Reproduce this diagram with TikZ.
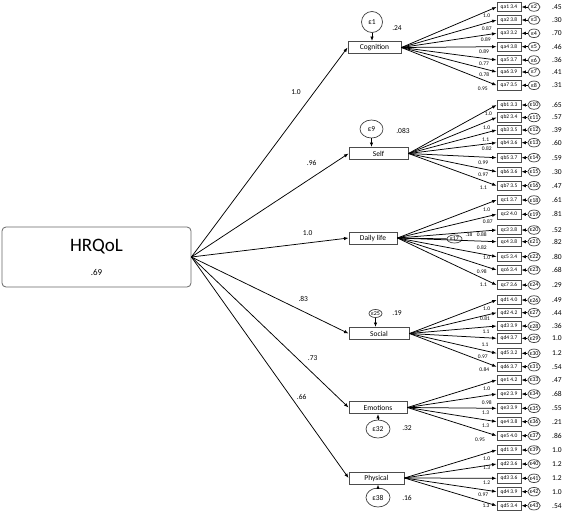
\documentclass[tikz,border=0pt]{standalone}
\usepackage{fontspec}
\setmainfont{Carlito}
\usetikzlibrary{arrows.meta,shapes.geometric}

\begin{document}
\begin{tikzpicture}[x=1pt,y=-1pt,
  arr/.style={-{Latex[length=4.5pt,width=3.4pt]},line width=0.75pt},
  latbox/.style={draw=black!70,line width=0.9pt,minimum height=12pt,inner sep=0pt,font=\fontsize{7.5}{8}\selectfont},
  itembox/.style={draw=black!70,line width=0.8pt,minimum width=24pt,minimum height=9.5pt,inner sep=0pt,font=\fontsize{5.5}{6}\selectfont},
  errell/.style={draw=black!75,line width=0.7pt,ellipse,inner sep=0pt,minimum width=12pt,minimum height=8.5pt,font=\fontsize{6}{6}\selectfont},
  bigerr/.style={errell,font=\fontsize{7.5}{8}\selectfont},
  val/.style={inner sep=0pt,font=\fontsize{7.5}{8}\selectfont},
  load/.style={inner sep=0pt,font=\fontsize{5.5}{6}\selectfont}]
\useasboundingbox (0,0) rectangle (567,514);
% general factor
\node [draw=black!60,line width=0.8pt,rounded corners=4pt,minimum width=189pt,minimum height=60pt] (hq) at (96.5,257) {};
\node [font=\fontsize{19}{20}\selectfont] (hqname) at (96.5,247) {HRQoL};
\node [font=\fontsize{9}{10}\selectfont] (hqr2) at (96.5,272) {.69};
% domains
\node [latbox,minimum width=53pt] (cog) at (374.5,47.5) {Cognition};
\node [latbox,minimum width=59pt] (self) at (378.5,153.5) {Self};
\node [latbox,minimum width=48pt] (dl) at (373,238) {Daily life};
\node [latbox,minimum width=60pt] (soc) at (379,333.5) {Social};
\node [latbox,minimum width=58pt] (emo) at (378,407.5) {Emotions};
\node [latbox,minimum width=55pt] (phy) at (376.5,478) {Physical};
\draw [arr] (hq.east) -- (cog.west);
\draw [arr] (hq.east) -- (self.west);
\draw [arr] (hq.east) -- (dl.west);
\draw [arr] (hq.east) -- (soc.west);
\draw [arr] (hq.east) -- (emo.west);
\draw [arr] (hq.east) -- (phy.west);
\node [val] (lcog) at (296,91.7) {1.0};
\node [val] (lself) at (311.7,163.3) {.96};
\node [val] (ldl) at (307.7,233.3) {1.0};
\node [val] (lsoc) at (303.3,299.3) {.83};
\node [val] (lemo) at (312.7,357.7) {.73};
\node [val] (lphy) at (301.7,396.7) {.66};
% disturbances
\node [bigerr,minimum width=21pt,minimum height=21pt] (e1) at (372,22) {ε1};
\node [bigerr,minimum width=23pt,minimum height=18pt] (e9) at (371.5,129) {ε9};
\node [errell,minimum width=15pt,minimum height=8pt] (e17) at (454.5,239) {ε17};
\node [errell,minimum width=13pt,minimum height=8pt] (e25) at (375.5,313.5) {ε25};
\node [bigerr,minimum width=24pt,minimum height=18pt] (e32) at (378,429) {ε32};
\node [bigerr,minimum width=24pt,minimum height=19pt] (e38) at (378,497.5) {ε38};
\draw [arr] (e1) -- (e1 |- cog.north);
\draw [arr] (e9) -- (e9 |- self.north);
\draw [arr] (e17) -- (dl.east);
\draw [arr] (e25) -- (e25 |- soc.north);
\draw [arr] (e32) -- (e32 |- emo.south);
\draw [arr] (e38) -- (e38 |- phy.south);
\node [val] (v1) at (397,28) {.24};
\node [val] (v9) at (403,131) {.083};
\node [load] (v17) at (469,234.3) {.18};
\node [val] (v25) at (397,313) {.19};
\node [val] (v32) at (407,428) {.32};
\node [val] (v38) at (407,498) {.16};
% items: name/y/label/error/R2/loading/label x/label y/domain
\foreach \nm/\yy/\lab/\ee/\rr/\ld/\lx/\ly/\lt in {
  qa1/7/qa1 3.4/2/.45/1.0/486.7/15.7/cog,
  qa2/20/qa2 3.8/3/.30/0.87/486.7/29/cog,
  qa3/33.3/qa3 3.2/4/.70/0.89/485.7/39.3/cog,
  qa4/46.7/qa4 3.8/5/.46/0.89/484/51.7/cog,
  qa5/60/qa5 3.7/6/.36/0.77/484/64/cog,
  qa6/72/qa6 3.9/7/.41/0.78/484.3/75/cog,
  qa7/85.3/qa7 3.5/8/.31/0.95/482.7/88.3/cog,
  qb1/105/qb1 3.3/10/.65/1.0/488.3/114/self,
  qb2/117.5/qb2 3.4/11/.57/1.0/486.7/127.7/self,
  qb3/130/qb3 3.5/12/.39/1.1/485.7/140/self,
  qb4/142.7/qb4 3.6/13/.60/0.82/486.7/148.3/self,
  qb5/157.7/qb5 3.7/14/.59/0.99/483.3/162.7/self,
  qb6/171.7/qb6 3.6/15/.30/0.97/483.3/174.3/self,
  qb7/185.7/qb7 3.5/16/.47/1.1/483.3/187.7/self,
  qc1/200/qc1 3.7/18/.61/1.0/486.7/210/dl,
  qc2/214.3/qc2 4.0/19/.81/0.87/487.7/222/dl,
  qc3/230/qc3 3.8/20/.52/0.88/481.7/234.3/dl,
  qc4/241.7/qc4 3.8/21/.82/0.82/481.7/247.3/dl,
  qc5/256.7/qc5 3.4/22/.80/1.0/486.7/257.7/dl,
  qc6/270/qc6 3.4/23/.68/0.98/481.7/271.7/dl,
  qc7/285/qc7 3.6/24/.29/1.1/483.3/285/dl,
  qd1/300/qd1 4.0/26/.49/1.0/486.7/309/soc,
  qd2/312.7/qd2 4.2/27/.44/0.81/485/319/soc,
  qd3/326/qd3 3.9/28/.36/1.1/486/331.7/soc,
  qd4/338.3/qd4 3.7/29/1.0/1.1/485/345/soc,
  qd5/353.3/qd5 3.2/30/1.2/0.97/482.7/356.7/soc,
  qd6/366.7/qd6 3.7/31/.54/0.84/484.3/370/soc,
  qe1/380/qe1 4.2/33/.47/1.0/486.7/389/emo,
  qe2/394/qe2 3.9/34/.68/0.98/486.7/402.3/emo,
  qe3/408.3/qe3 3.9/35/.55/1.3/485.7/412.7/emo,
  qe4/421.7/qe4 3.8/36/.21/1.3/485.7/426/emo,
  qe5/435.7/qe5 4.0/37/.86/0.95/480/439.5/emo,
  qf1/450/qd1 3.9/39/1.0/1.0/486.7/459/phy,
  qf2/464/qd2 3.6/40/1.2/1.3/486.7/467.3/phy,
  qf3/478.3/qd3 3.6/41/1.2/1.2/486.7/482.7/phy,
  qf4/491.7/qd4 3.9/42/1.0/0.97/483.3/495/phy,
  qf5/505.7/qd5 3.4/43/.54/1.3/486/505.7/phy}
{
  \node [itembox] (\nm) at (509,\yy) {\lab};
  \node [errell] (e\nm) at (534,\yy) {ε\ee};
  \node [val,anchor=west] (r\nm) at (552,\yy) {\rr};
  \draw [arr] (e\nm) -- (\nm);
  \draw [arr] (\lt.east) -- (\nm.west);
  \node [load] (l\nm) at (\lx,\ly) {\ld};
}
\end{tikzpicture}
\end{document}
